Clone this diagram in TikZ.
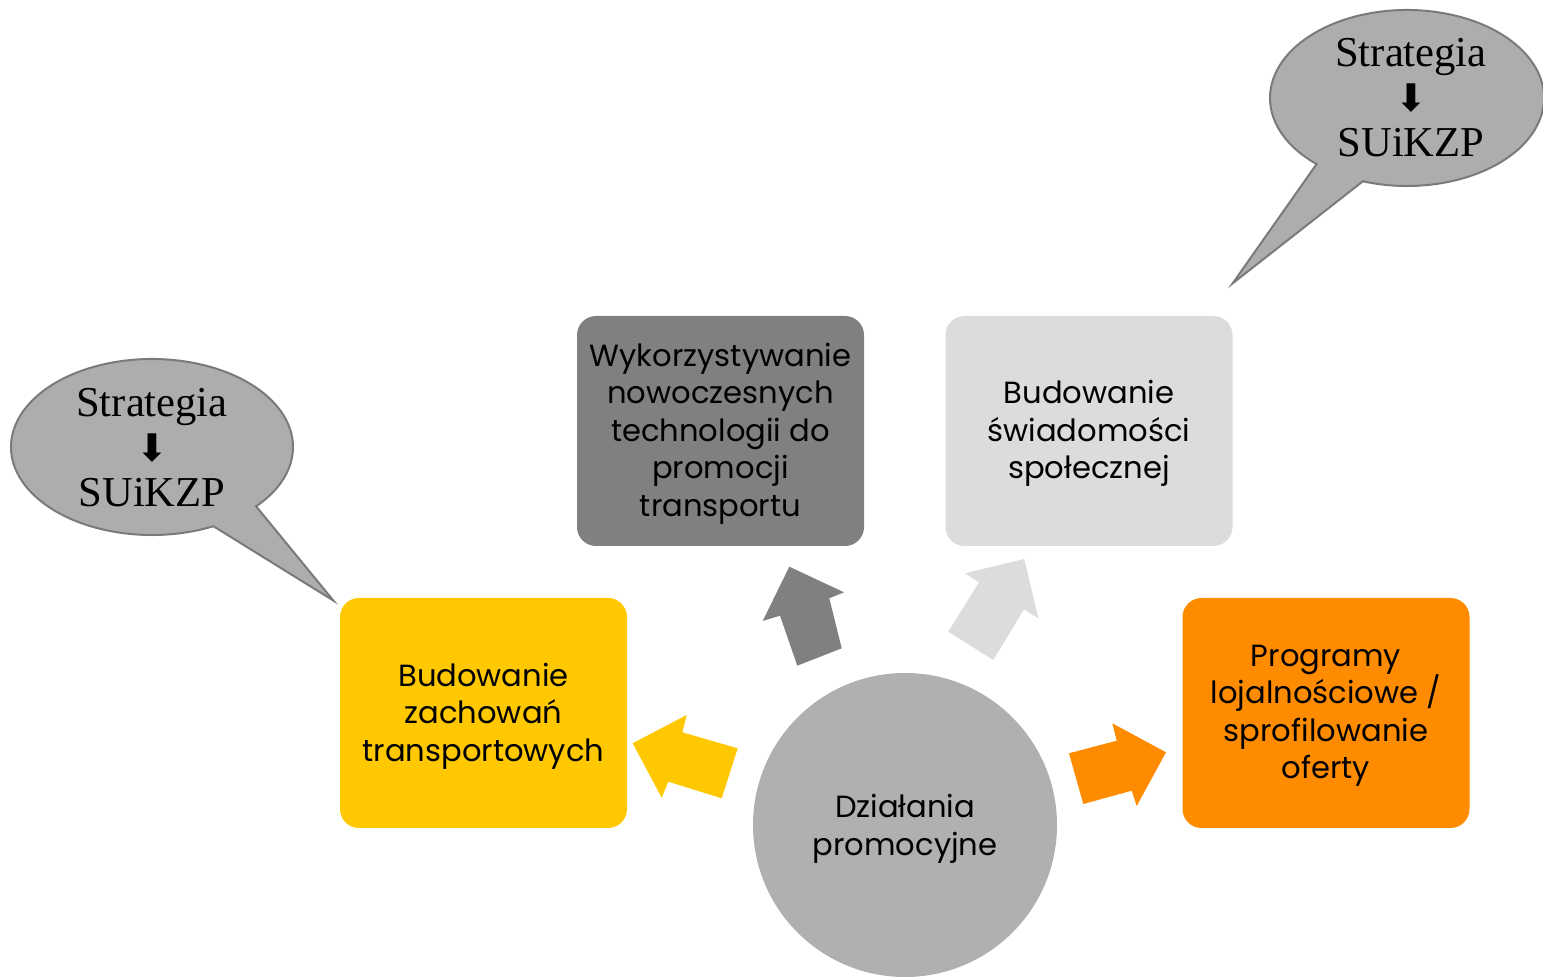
\documentclass[tikz,border=0pt]{standalone}
\usepackage{fontspec}
\usetikzlibrary{calc}
\newfontfamily\boxfont{Poppins}
\newfontfamily\bubfont{Liberation Serif}
\newfontfamily\symfont{DejaVu Sans}
\definecolor{yellowc}{HTML}{FFC800}
\definecolor{darkc}{HTML}{808080}
\definecolor{lightc}{HTML}{DCDCDC}
\definecolor{orangec}{HTML}{FF8C00}
\definecolor{circc}{HTML}{B0B0B0}
\definecolor{bubfill}{HTML}{ADADAD}
\definecolor{bubline}{HTML}{7A7A7A}
\begin{document}
\begin{tikzpicture}[x=0.5pt,y=-0.5pt,
  box/.style={rectangle, rounded corners=9.5pt, minimum width=143.5pt, minimum height=115pt,
    inner sep=0pt},
  boxtext/.style={align=center, text=black, inner sep=0pt,
    font=\boxfont\fontsize{15.3}{18.75}\selectfont},
  hub/.style={circle, minimum size=152pt, inner sep=0pt, fill=circc},
  bubble/.style={fill=bubfill, draw=bubline, line width=1pt, line join=miter},
  bubtext/.style={align=center, text=black, font=\bubfont\fontsize{21.3}{22.5}\selectfont}]
\useasboundingbox (0,0) rectangle (1543,977);
\fill[white] (0,0) rectangle (1543,977);

% speech bubbles
\coordinate (lc) at (152,447);
\coordinate (ltip) at (333.3,600.5);
\path[bubble] ($(lc)+(42.4:141 and 88)$) -- (ltip) -- ($(lc)+(64.2:141 and 88)$)
  arc[start angle=64.2, end angle=402.4, x radius=141, y radius=88] -- cycle;
\node[bubtext] (s1) at (152,448) {Strategia\\{\symfont\fontsize{19}{22.5}\selectfont ⬇}\\SUiKZP};

\coordinate (rc) at (1407,98);
\coordinate (rtip) at (1232.7,283.3);
\path[bubble] ($(rc)+(131.3:137 and 88)$) -- (rtip) -- ($(rc)+(108.8:137 and 88)$)
  arc[start angle=108.8, end angle=-228.7, x radius=137, y radius=88] -- cycle;
\node[bubtext] (s2) at (1411,98) {Strategia\\{\symfont\fontsize{19}{22.5}\selectfont ⬇}\\SUiKZP};

% boxes
\node[box, fill=yellowc] (b1) at (483.5,713) {};
\node[box, fill=darkc] (b2) at (720.5,431) {};
\node[box, fill=lightc] (b3) at (1089,431) {};
\node[box, fill=orangec] (b4) at (1326,713) {};
\node[boxtext] (t1) at ([yshift=-1.5pt]b1.center) {Budowanie\\zachowań\\transportowych};
\node[boxtext] (t2) at ([yshift=-1.2pt]b2.center) {Wykorzystywanie\\nowoczesnych\\technologii do\\promocji\\transportu};
\node[boxtext] (t3) at ([yshift=-1.2pt]b3.center) {Budowanie\\świadomości\\społecznej};
\node[boxtext] (t4) at ([yshift=-1.5pt]b4.center) {Programy\\lojalnościowe /\\sprofilowanie\\oferty};

% centre
\node[hub] (c) at (905,825) {};
\node[boxtext] (tc) at ([yshift=-2pt]c.center) {Działania\\promocyjne};

% block arrows
\fill[yellowc] (632.7,743.3) -- (686.7,715) -- (682.3,732.3) -- (737.7,748.3)
  -- (721.7,798.3) -- (668.3,781.7) -- (661.7,797.7) -- cycle;
\fill[darkc] (789.3,566.7) -- (844,592.3) -- (829.3,598.3) -- (841.7,648.3)
  -- (797.3,665.7) -- (780,615.7) -- (762.7,621) -- cycle;
\fill[lightc] (1024.3,559) -- (1038.3,618.3) -- (1024,609.3) -- (993.3,660)
  -- (948.3,631.7) -- (979,582.3) -- (965,573.3) -- cycle;
\fill[orangec] (1166,752.3) -- (1112.3,723.3) -- (1116.7,740.7) -- (1069,753.3)
  -- (1083.3,804) -- (1131.7,790.7) -- (1136.7,806) -- cycle;
\end{tikzpicture}
\end{document}
